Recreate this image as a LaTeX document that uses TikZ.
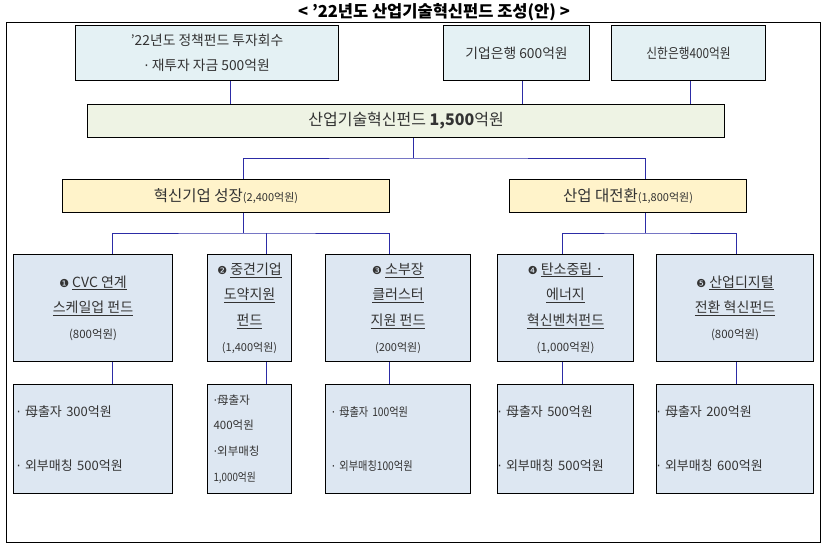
\documentclass[tikz,border=0pt]{standalone}
\usepackage{fontspec}
\setmainfont{Noto Sans CJK KR}
\newfontfamily\dejavu{DejaVu Sans}
\newfontfamily\cond[FakeStretch=0.85]{Noto Sans CJK KR}
\usetikzlibrary{calc}
\definecolor{topfill}{HTML}{E4F1F4}
\definecolor{mainfill}{HTML}{EEF3E4}
\definecolor{midfill}{HTML}{FFF3CA}
\definecolor{fundfill}{HTML}{DDE7F2}
\definecolor{linkblue}{HTML}{2C2CA6}
\definecolor{txt}{HTML}{333333}
\newcommand{\dg}[1]{{\dejavu\fontsize{11}{11}\selectfont #1}}
\newcommand{\ul}[1]{\underline{#1}}
\newcommand{\md}{{\dejavu ·}}
\begin{document}
\begin{tikzpicture}[x=1pt,y=-1pt,
  box/.style={draw=black, line width=1.1pt, inner sep=0pt, text=txt, anchor=north west},
  topbox/.style={box, fill=topfill, align=center, font=\fontsize{13.8}{25}\selectfont},
  mainbox/.style={box, fill=mainfill, font=\fontsize{16}{18}\selectfont},
  midbox/.style={box, fill=midfill, font=\fontsize{15.5}{18}\selectfont},
  fundbox/.style={box, fill=fundfill, align=center, minimum height=107pt, font=\fontsize{14}{25.7}\selectfont},
  subbox/.style={box, fill=fundfill, align=left, minimum height=109pt},
  conn/.style={draw=linkblue, line width=0.9pt}]
\useasboundingbox (0,0) rectangle (827,545);
\draw[line width=1pt] (6,23) rectangle (820,542);
\node[font=\bfseries\fontsize{16.5}{18}\selectfont, text=black] (title) at (434,12) {< ’22년도 산업기술혁신펀드 조성(안) >};
% top sources
\node[topbox, minimum width=263pt, minimum height=55pt] (A) at (75,25) {’22년도 정책펀드 투자회수\\\md{} 재투자 자금 500억원};
\node[topbox, minimum width=146pt, minimum height=55pt] (B) at (443,25) {기업은행 600억원};
\node[topbox, minimum width=154pt, minimum height=55pt] (C) at (611,25) {\cond 신한은행400억원};
% main fund
\node[mainbox, minimum width=637pt, minimum height=33pt] (main) at (87,104) {산업기술혁신펀드 \textbf{1,500}억원};
% level 2
\node[midbox, minimum width=327pt, minimum height=33pt] (L) at (62,179) {혁신기업 성장{\fontsize{11}{12}\selectfont(2,400억원)}};
\node[midbox, minimum width=237pt, minimum height=33pt] (R) at (509,179) {산업 대전환{\fontsize{11}{12}\selectfont(1,800억원)}};
% funds
\node[fundbox, minimum width=159pt] (F1) at (13,254) {\dg{❶} \ul{CVC 연계}\\\ul{스케일업 펀드}\\{\fontsize{11.5}{25.7}\selectfont (800억원)}};
\node[fundbox, minimum width=84pt] (F2) at (207,254) {\dg{❷} \ul{중견기업}\\\ul{도약지원}\\\ul{펀드}\\{\fontsize{11}{25.7}\selectfont (1,400억원)}};
\node[fundbox, minimum width=145pt] (F3) at (325,254) {\dg{❸} \ul{소부장}\\\ul{클러스터}\\\ul{지원 펀드}\\{\fontsize{11}{25.7}\selectfont (200억원)}};
\node[fundbox, minimum width=136pt] (F4) at (497,254) {\dg{❹} \ul{탄소중립 ·}\\\ul{에너지}\\\ul{혁신벤처펀드}\\{\fontsize{11.5}{25.7}\selectfont (1,000억원)}};
\node[fundbox, minimum width=157pt] (F5) at (656,254) {\dg{❺} \ul{산업디지털}\\\ul{전환 혁신펀드}\\{\fontsize{11.5}{25.7}\selectfont (800억원)}};
% sub boxes
\node[subbox, text width=153pt, inner xsep=3pt, font=\fontsize{13}{54}\selectfont] (F1b) at (13,384) {\md{} 母출자 300억원\\\md{} 외부매칭 500억원};
\node[subbox, text width=72pt, inner xsep=6pt, font=\fontsize{11.5}{25.7}\selectfont] (F2b) at (207,384) {\md{}母출자\\400억원\\\md{}외부매칭\\{\cond 1,000억원}};
\node[subbox, text width=133pt, inner xsep=6pt, font=\cond\fontsize{12}{54}\selectfont] (F3b) at (325,384) {\md{} 母출자 100억원\\\md{} 외부매칭100억원};
\node[subbox, text width=136pt, inner xsep=0pt, font=\fontsize{13}{54}\selectfont] (F4b) at (497,384) {\md{} 母출자 500억원\\\md{} 외부매칭 500억원};
\node[subbox, text width=157pt, inner xsep=0pt, font=\fontsize{13}{54}\selectfont] (F5b) at (656,384) {\md{} 母출자 200억원\\\md{} 외부매칭 600억원};
% connector coordinates
\coordinate (xa) at (230,0);
\coordinate (xb) at (522,0);
\coordinate (xc) at (690,0);
\coordinate (j1) at (413,158);
\coordinate (xl) at (243,0);
\coordinate (xr) at (645,0);
\coordinate (j2) at (243,233);
\coordinate (j3) at (645,233);
\coordinate (x1) at (112,0);
\coordinate (x2) at (266,0);
\coordinate (x3) at (389,0);
\coordinate (x4) at (562,0);
\coordinate (x5) at (736,0);
% connectors
\draw[conn] (A.south -| xa) -- (main.north -| xa);
\draw[conn] (B.south -| xb) -- (main.north -| xb);
\draw[conn] (C.south -| xc) -- (main.north -| xc);
\draw[conn] (main.south -| j1) -- (j1);
\draw[conn] (L.north -| xl) |- (j1) -| (R.north -| xr);
\draw[conn] (L.south -| j2) -- (j2);
\draw[conn] (F1.north -| x1) |- (j2) -| (F3.north -| x3);
\draw[conn] (F2.north -| x2) -- (x2 |- j2);
\draw[conn] (R.south -| j3) -- (j3);
\draw[conn] (F4.north -| x4) |- (j3) -| (F5.north -| x5);
\draw[conn] (F1.south -| x1) -- (F1b.north -| x1);
\draw[conn] (F2.south -| x2) -- (F2b.north -| x2);
\draw[conn] (F3.south -| x3) -- (F3b.north -| x3);
\draw[conn] (F4.south -| x4) -- (F4b.north -| x4);
\draw[conn] (F5.south -| x5) -- (F5b.north -| x5);
\end{tikzpicture}
\end{document}
